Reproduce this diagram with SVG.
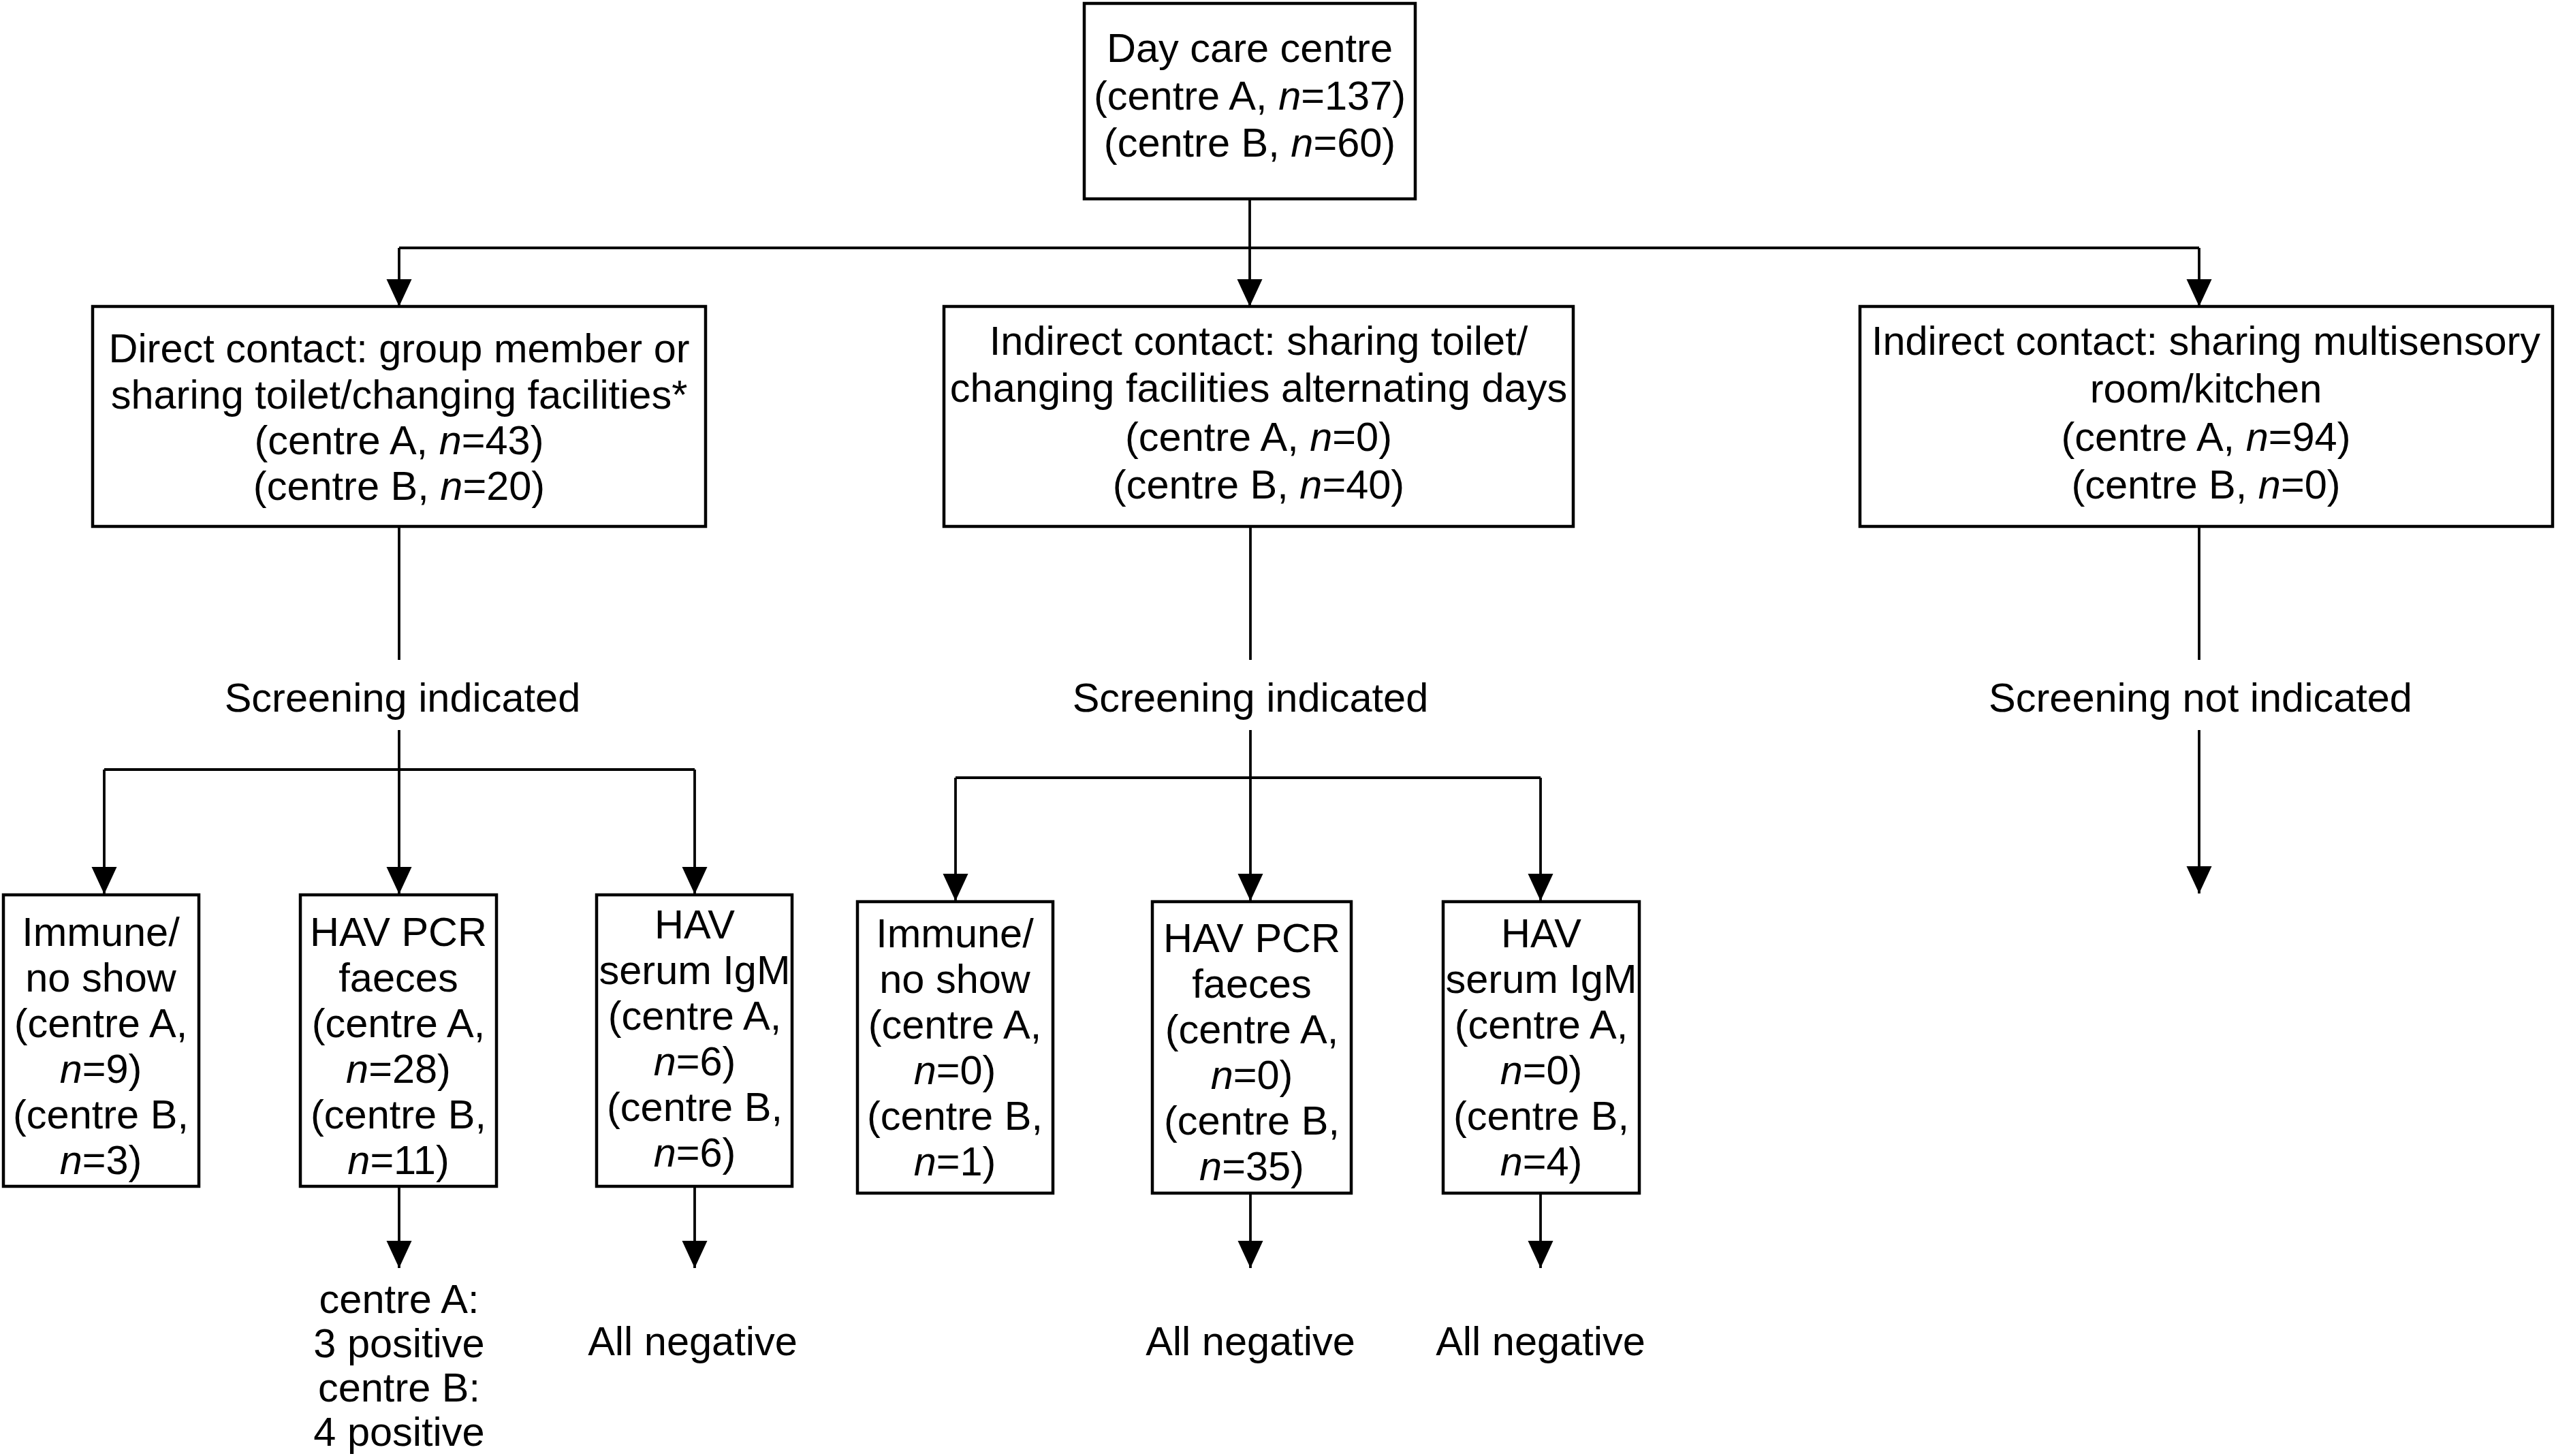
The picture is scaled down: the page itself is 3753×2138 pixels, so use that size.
<svg xmlns="http://www.w3.org/2000/svg" width="3753" height="2138" viewBox="0 0 3753 2138">
<defs>
<style>
.box{fill:#fff;stroke:#000;stroke-width:4.5}
.ln{fill:none;stroke:#000;stroke-width:3.8}
.t{font-family:"Liberation Sans",Arial,Helvetica,sans-serif;font-size:59.5px;fill:#000;text-anchor:middle}
.i{font-style:italic}
</style>
<marker id="ah" markerUnits="userSpaceOnUse" markerWidth="42" markerHeight="42" viewBox="0 -21 42 42" refX="40" refY="0" orient="auto">
<path d="M0,-18.5 L40,0 L0,18.5 z" fill="#000"/>
</marker>
</defs>
<rect width="3753" height="2138" fill="#fff"/>
<g id="connectors">
<path class="ln" d="M1835,292 V450" marker-end="url(#ah)"/>
<path class="ln" d="M586,364 H3229"/>
<path class="ln" d="M586,364 V450" marker-end="url(#ah)"/>
<path class="ln" d="M3229,364 V450" marker-end="url(#ah)"/>
<path class="ln" d="M586,773 V969"/>
<path class="ln" d="M1836,773 V969"/>
<path class="ln" d="M3229,773 V969"/>
<path class="ln" d="M586,1072 V1130"/>
<path class="ln" d="M153,1130 H1020"/>
<path class="ln" d="M153,1130 V1313" marker-end="url(#ah)"/>
<path class="ln" d="M586,1130 V1313" marker-end="url(#ah)"/>
<path class="ln" d="M1020,1130 V1313" marker-end="url(#ah)"/>
<path class="ln" d="M1836,1072 V1142"/>
<path class="ln" d="M1403,1142 H2262"/>
<path class="ln" d="M1403,1142 V1323" marker-end="url(#ah)"/>
<path class="ln" d="M1836,1142 V1323" marker-end="url(#ah)"/>
<path class="ln" d="M2262,1142 V1323" marker-end="url(#ah)"/>
<path class="ln" d="M3229,1072 V1312" marker-end="url(#ah)"/>
<path class="ln" d="M586,1742 V1862" marker-end="url(#ah)"/>
<path class="ln" d="M1020,1742 V1862" marker-end="url(#ah)"/>
<path class="ln" d="M1836,1752 V1862" marker-end="url(#ah)"/>
<path class="ln" d="M2262,1752 V1862" marker-end="url(#ah)"/>
</g>
<g id="n-top">
<rect class="box" x="1592" y="5" width="486" height="287"/>
<text class="t" x="1835" y="91">Day care centre</text>
<text class="t" x="1835" y="161">(centre A, <tspan class="i">n</tspan>=137)</text>
<text class="t" x="1835" y="230">(centre B, <tspan class="i">n</tspan>=60)</text>
</g>
<g id="n-direct">
<rect class="box" x="136" y="450" width="900" height="323"/>
<text class="t" x="586" y="532">Direct contact: group member or</text>
<text class="t" x="586" y="600">sharing toilet/changing facilities*</text>
<text class="t" x="586" y="667">(centre A, <tspan class="i">n</tspan>=43)</text>
<text class="t" x="586" y="734">(centre B, <tspan class="i">n</tspan>=20)</text>
</g>
<g id="n-indirect1">
<rect class="box" x="1386" y="450" width="924" height="323"/>
<text class="t" x="1848" y="521">Indirect contact: sharing toilet/</text>
<text class="t" x="1848" y="590">changing facilities alternating days</text>
<text class="t" x="1848" y="662">(centre A, <tspan class="i">n</tspan>=0)</text>
<text class="t" x="1848" y="732">(centre B, <tspan class="i">n</tspan>=40)</text>
</g>
<g id="n-indirect2">
<rect class="box" x="2731" y="450" width="1017" height="323"/>
<text class="t" x="3239" y="521">Indirect contact: sharing multisensory</text>
<text class="t" x="3239" y="591">room/kitchen</text>
<text class="t" x="3239" y="662">(centre A, <tspan class="i">n</tspan>=94)</text>
<text class="t" x="3239" y="732">(centre B, <tspan class="i">n</tspan>=0)</text>
</g>
<g id="l-screen1"><text class="t" x="591" y="1045">Screening indicated</text></g>
<g id="l-screen2"><text class="t" x="1836" y="1045">Screening indicated</text></g>
<g id="l-screen3"><text class="t" x="3231" y="1045">Screening not indicated</text></g>
<g id="n-a1">
<rect class="box" x="5" y="1314" width="287" height="428"/>
<text class="t" x="148" y="1389">Immune/</text>
<text class="t" x="148" y="1456">no show</text>
<text class="t" x="148" y="1523">(centre A,</text>
<text class="t" x="148" y="1590"><tspan class="i">n</tspan>=9)</text>
<text class="t" x="148" y="1657">(centre B,</text>
<text class="t" x="148" y="1724"><tspan class="i">n</tspan>=3)</text>
</g>
<g id="n-a2">
<rect class="box" x="441" y="1314" width="288" height="428"/>
<text class="t" x="585" y="1389">HAV PCR</text>
<text class="t" x="585" y="1456">faeces</text>
<text class="t" x="585" y="1523">(centre A,</text>
<text class="t" x="585" y="1590"><tspan class="i">n</tspan>=28)</text>
<text class="t" x="585" y="1657">(centre B,</text>
<text class="t" x="585" y="1724"><tspan class="i">n</tspan>=11)</text>
</g>
<g id="n-a3">
<rect class="box" x="876" y="1314" width="287" height="428"/>
<text class="t" x="1020" y="1378">HAV</text>
<text class="t" x="1020" y="1445">serum IgM</text>
<text class="t" x="1020" y="1512">(centre A,</text>
<text class="t" x="1020" y="1579"><tspan class="i">n</tspan>=6)</text>
<text class="t" x="1020" y="1646">(centre B,</text>
<text class="t" x="1020" y="1713"><tspan class="i">n</tspan>=6)</text>
</g>
<g id="n-b1">
<rect class="box" x="1259" y="1324" width="287" height="428"/>
<text class="t" x="1402" y="1391">Immune/</text>
<text class="t" x="1402" y="1458">no show</text>
<text class="t" x="1402" y="1525">(centre A,</text>
<text class="t" x="1402" y="1592"><tspan class="i">n</tspan>=0)</text>
<text class="t" x="1402" y="1659">(centre B,</text>
<text class="t" x="1402" y="1726"><tspan class="i">n</tspan>=1)</text>
</g>
<g id="n-b2">
<rect class="box" x="1692" y="1324" width="292" height="428"/>
<text class="t" x="1838" y="1398">HAV PCR</text>
<text class="t" x="1838" y="1465">faeces</text>
<text class="t" x="1838" y="1532">(centre A,</text>
<text class="t" x="1838" y="1599"><tspan class="i">n</tspan>=0)</text>
<text class="t" x="1838" y="1666">(centre B,</text>
<text class="t" x="1838" y="1733"><tspan class="i">n</tspan>=35)</text>
</g>
<g id="n-b3">
<rect class="box" x="2119" y="1324" width="288" height="428"/>
<text class="t" x="2263" y="1391">HAV</text>
<text class="t" x="2263" y="1458">serum IgM</text>
<text class="t" x="2263" y="1525">(centre A,</text>
<text class="t" x="2263" y="1592"><tspan class="i">n</tspan>=0)</text>
<text class="t" x="2263" y="1659">(centre B,</text>
<text class="t" x="2263" y="1726"><tspan class="i">n</tspan>=4)</text>
</g>
<g id="r-a2">
<text class="t" x="586" y="1928">centre A:</text>
<text class="t" x="586" y="1993">3 positive</text>
<text class="t" x="586" y="2058">centre B:</text>
<text class="t" x="586" y="2123">4 positive</text>
</g>
<g id="r-a3"><text class="t" x="1017" y="1990">All negative</text></g>
<g id="r-b2"><text class="t" x="1836" y="1990">All negative</text></g>
<g id="r-b3"><text class="t" x="2262" y="1990">All negative</text></g>
</svg>
